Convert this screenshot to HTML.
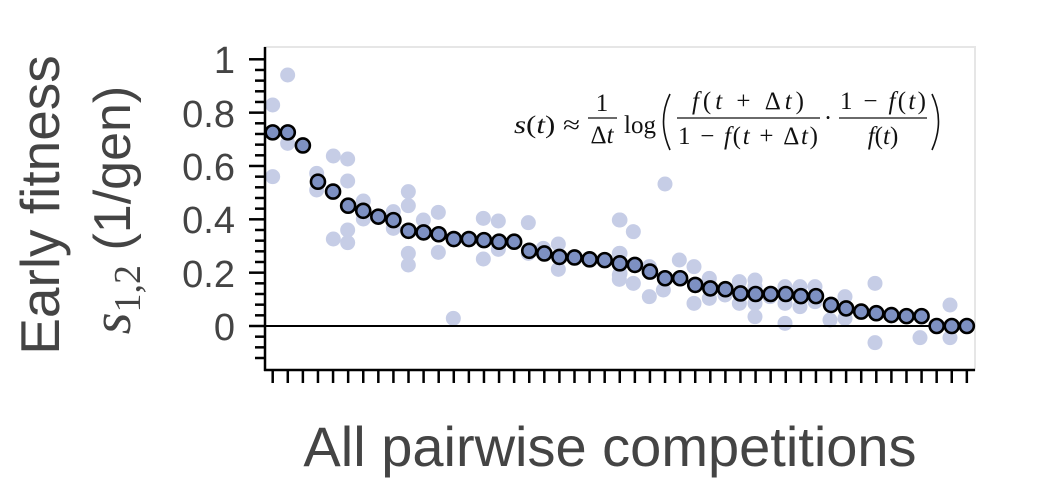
<!DOCTYPE html>
<html><head><meta charset="utf-8"><style>
html,body{margin:0;padding:0;background:#fff}
svg{display:block}
</style></head><body>
<svg id="s" width="1044" height="492" xmlns="http://www.w3.org/2000/svg">
<rect x="265" y="47" width="710" height="323" fill="none" stroke="#e6e6e6" stroke-width="2"/>
<g id="light"></g>
<line x1="265" y1="326" x2="975" y2="326" stroke="#000" stroke-width="2"/>
<g id="dark"></g>
<g id="axes" stroke="#000" stroke-width="2.5"></g>
<g font-family="'Liberation Sans', sans-serif" fill="#444" font-size="38" text-anchor="end">
<text x="235" y="73">1</text>
<text x="235" y="127">0.8</text>
<text x="235" y="180">0.6</text>
<text x="235" y="233">0.4</text>
<text x="235" y="287">0.2</text>
<text x="235" y="340">0</text>
</g>
<text x="610" y="466" text-anchor="middle" font-family="'Liberation Sans', sans-serif" font-size="56" fill="#444">All pairwise competitions</text>
<text transform="translate(59,205) rotate(-90)" text-anchor="middle" font-family="'Liberation Sans', sans-serif" font-size="55" fill="#444">Early fitness</text>
<text transform="translate(130,210) rotate(-90)" text-anchor="middle" font-family="'Liberation Sans', sans-serif" font-size="52" fill="#444"><tspan font-family="'Liberation Serif', serif" font-style="italic" font-size="56">s</tspan><tspan font-family="'Liberation Serif', serif" font-size="38" dy="10">1,2</tspan><tspan dy="-10"> (1/gen)</tspan></text>
<g font-family="'Liberation Serif', serif" font-size="25" fill="#111">
<text x="514" y="133" textLength="66" lengthAdjust="spacingAndGlyphs"><tspan font-style="italic">s</tspan>(<tspan font-style="italic">t</tspan>) ≈</text>
<text x="602" y="111" text-anchor="middle">1</text>
<line x1="588" y1="118" x2="617" y2="118" stroke="#111" stroke-width="1.2"/>
<text x="602" y="143" text-anchor="middle">Δ<tspan font-style="italic">t</tspan></text>
<text x="624" y="133">log</text>
<path d="M670,94 Q657,121 670,150" fill="none" stroke="#111" stroke-width="1.6"/>
<text x="748" y="109" text-anchor="middle" textLength="112" lengthAdjust="spacing"><tspan font-style="italic">f</tspan>(<tspan font-style="italic">t</tspan> + Δ<tspan font-style="italic">t</tspan>)</text>
<line x1="677" y1="118" x2="820" y2="118" stroke="#111" stroke-width="1.2"/>
<text x="748" y="144" text-anchor="middle" textLength="140" lengthAdjust="spacing">1 − <tspan font-style="italic">f</tspan>(<tspan font-style="italic">t</tspan> + Δ<tspan font-style="italic">t</tspan>)</text>
<text x="828" y="126" text-anchor="middle">·</text>
<text x="883" y="109" text-anchor="middle" textLength="86" lengthAdjust="spacing">1 − <tspan font-style="italic">f</tspan>(<tspan font-style="italic">t</tspan>)</text>
<line x1="839" y1="118" x2="927" y2="118" stroke="#111" stroke-width="1.2"/>
<text x="883" y="144" text-anchor="middle"><tspan font-style="italic">f</tspan>(<tspan font-style="italic">t</tspan>)</text>
<path d="M932,94 Q945,121 932,150" fill="none" stroke="#111" stroke-width="1.6"/>
</g>
</svg>
<script>
var NS="http://www.w3.org/2000/svg";
function el(p,t,a){var e=document.createElementNS(NS,t);for(var k in a)e.setAttribute(k,a[k]);p.appendChild(e);return e;}
var vals=[0.726,0.726,0.677,0.541,0.504,0.451,0.432,0.41,0.397,0.357,0.351,0.344,0.326,0.326,0.322,0.316,0.316,0.282,0.272,0.259,0.257,0.25,0.247,0.235,
0.229,0.204,0.179,0.179,0.154,0.141,0.138,0.122,0.12,0.12,0.12,0.112,0.112,0.079,0.066,0.054,0.048,0.041,0.037,0.037,0,0,0];
var x0=272.7,dx=15.09,yz=326,sc=266.7;
var L1=[[68,195],[113,105],[68,410],[113,310],[200,400],[200,450],[250,348],[293,357],[293,423],[250,597],[293,570],[293,608],[340,483],[340,537],[430,515],[430,565],[475,455],[475,497],[475,640],[475,675],[520,540],[565,517],[565,637],[610,835],[700,535],[745,543],[700,657],[745,628],[835,548],[835,640],[880,625],[925,612],[925,688],[1108,540],[1108,640],[1108,705],[1108,718]];
var L2=[[0,540],[40,575],[0,640],[0,700],[40,730],[88,680],[88,770],[130,750],[178,660],[178,715],[222,680],[222,790],[268,715],[268,775],[315,765],[358,725],[358,790],[405,720],[405,740],[405,790],[405,830],[450,770],[495,740],[495,790],[495,850],[540,740],[540,800],[585,740],[585,785],[630,840],[675,770],[675,835],[765,730],[765,908],[900,893],[990,795],[990,893],[135,432]];
var lg=document.getElementById("light");
L1.forEach(function(p){el(lg,"circle",{cx:250+p[0]/3,cy:40+p[1]/3,r:7.5,fill:"#c6cde6"});});
L2.forEach(function(p){el(lg,"circle",{cx:620+p[0]/3,cy:40+p[1]/3,r:7.5,fill:"#c6cde6"});});
var dg=document.getElementById("dark");
vals.forEach(function(v,i){el(dg,"circle",{cx:x0+i*dx,cy:yz-v*sc,r:7,fill:"#7d90c2",stroke:"#000","stroke-width":2.6});});
var ax=document.getElementById("axes");
el(ax,"line",{x1:265,y1:47,x2:265,y2:371});
el(ax,"line",{x1:264,y1:370,x2:975,y2:370});
for(var k=-3;k<=25;k++){var y=yz-k*0.04*sc;var maj=(k%5==0&&k>=0);el(ax,"line",{x1:maj?249:255,y1:y,x2:265,y2:y});}
for(var i=0;i<47;i++){var x=x0+i*dx;el(ax,"line",{x1:x,y1:370,x2:x,y2:383});}
</script>
</body></html>
